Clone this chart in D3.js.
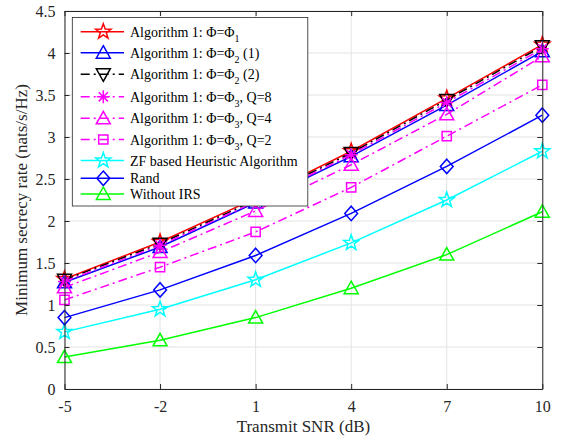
<!DOCTYPE html>
<html>
<head>
<meta charset="utf-8">
<script src="https://cdn.jsdelivr.net/npm/d3@7"></script>
<style>
  html, body { margin: 0; padding: 0; background: #fff; }
  svg { display: block; }
  svg text { font-family: "Liberation Serif", "Times New Roman", Times, serif !important; }
</style>
</head>
<body>
<svg id="chart" width="562" height="438"></svg>
<script>
// ---- data ----
const snr = [-5, -2, 1, 4, 7, 10];
const phi1   = [1.31, 1.75, 2.27, 2.83, 3.46, 4.10];
const phi2a  = [1.27, 1.69, 2.22, 2.77, 3.38, 4.02];
const phi2b  = [1.30, 1.73, 2.25, 2.81, 3.44, 4.08];
const phi3q8 = [1.28, 1.71, 2.23, 2.79, 3.41, 4.05];
const phi3q4 = [1.21, 1.63, 2.12, 2.67, 3.27, 3.96];
const phi3q2 = [1.06, 1.45, 1.87, 2.40, 3.01, 3.62];
const zfHeur = [0.68, 0.95, 1.30, 1.74, 2.25, 2.83];
const randPh = [0.85, 1.18, 1.59, 2.09, 2.65, 3.26];
const noIRS  = [0.38, 0.58, 0.85, 1.20, 1.60, 2.11];

const xTicks = [-5, -2, 1, 4, 7, 10];
const yTicks = [0, 0.5, 1, 1.5, 2, 2.5, 3, 3.5, 4, 4.5];

const labelMain = ["Algorithm 1: \u03A6=\u03A6", "Algorithm 1: \u03A6=\u03A6", "Algorithm 1: \u03A6=\u03A6",
                   "Algorithm 1: \u03A6=\u03A6", "Algorithm 1: \u03A6=\u03A6", "Algorithm 1: \u03A6=\u03A6",
                   "ZF based Heuristic Algorithm", "Rand", "Without IRS"];
const labelSub  = ["1", "2", "2", "3", "3", "3", "", "", ""];
const labelTail = ["", " (1)", " (2)", ", Q=8", ", Q=4", ", Q=2", "", "", ""];

const xLabel = "Transmit SNR (dB)";
const yLabel = "Minimum secrecy rate (nats/s/Hz)";

// ---- styling ----
const FONT = "Liberation Serif, Times New Roman, serif";
const seriesValues = [phi1, phi2a, phi2b, phi3q8, phi3q4, phi3q2, zfHeur, randPh, noIRS];
const colors  = ["#ff0000", "#0000ff", "#000000", "#ff00ff", "#ff00ff", "#ff00ff", "#00ffff", "#0000ff", "#00ff00"];
const dashes  = [null, null, "9,4,2,4", "9,4,2,4", "9,4,2,4", "9,4,2,4", null, null, null];
const markers = ["pentagram", "triUp", "triDown", "asterisk", "triUp", "square", "pentagram", "diamond", "triUp"];

function markerPath(type) {
  const p = d3.path();
  if (type === "triUp") {
    p.moveTo(0, -7); p.lineTo(7, 5.5); p.lineTo(-7, 5.5); p.closePath();
  } else if (type === "triDown") {
    p.moveTo(0, 7); p.lineTo(7, -5.5); p.lineTo(-7, -5.5); p.closePath();
  } else if (type === "square") {
    p.rect(-4.6, -4.6, 9.2, 9.2);
  } else if (type === "diamond") {
    p.moveTo(0, -7.2); p.lineTo(6.4, 0); p.lineTo(0, 7.2); p.lineTo(-6.4, 0); p.closePath();
  } else if (type === "pentagram") {
    const R = 8, r = 3.2;
    for (let i = 0; i < 10; i++) {
      const a = -Math.PI / 2 + i * Math.PI / 5;
      const rad = i % 2 === 0 ? R : r;
      const px = rad * Math.cos(a), py = rad * Math.sin(a);
      if (i === 0) p.moveTo(px, py); else p.lineTo(px, py);
    }
    p.closePath();
  } else if (type === "asterisk") {
    const r = 6.5;
    for (let i = 0; i < 4; i++) {
      const a = i * Math.PI / 4;
      p.moveTo(-r * Math.cos(a), -r * Math.sin(a));
      p.lineTo(r * Math.cos(a), r * Math.sin(a));
    }
  }
  return p.toString();
}

// ---- layout ----
const svg = d3.select("#chart").attr("font-family", FONT);
const L = 64.5, R = 542.3, T = 11, B = 389;
const x = d3.scaleLinear().domain([-5, 10]).range([L, R]);
const y = d3.scaleLinear().domain([0, 4.5]).range([B, T]);
const axisColor = "#262626";

// grid
const grid = svg.append("g");
grid.selectAll("line.gx").data(xTicks).join("line")
  .attr("x1", d => x(d)).attr("x2", d => x(d)).attr("y1", T).attr("y2", B)
  .attr("stroke", "#e3e3e3").attr("stroke-width", 1);
grid.selectAll("line.gy").data(yTicks).join("line")
  .attr("x1", L).attr("x2", R).attr("y1", d => y(d)).attr("y2", d => y(d))
  .attr("stroke", "#e3e3e3").attr("stroke-width", 1);

// series
const plot = svg.append("g");
const line = d3.line().x((d, i) => x(snr[i])).y(d => y(d));
seriesValues.forEach((vals, k) => {
  const g = plot.append("g");
  g.append("path").attr("d", line(vals))
    .attr("fill", "none").attr("stroke", colors[k]).attr("stroke-width", 1.5)
    .attr("stroke-dasharray", dashes[k]);
  g.selectAll("path.m").data(vals).join("path")
    .attr("class", "m")
    .attr("transform", (d, i) => `translate(${x(snr[i])},${y(d)})`)
    .attr("d", markerPath(markers[k]))
    .attr("fill", "none").attr("stroke", colors[k]).attr("stroke-width", 1.5);
});

// axes
const axB = d3.axisBottom(x).tickValues(xTicks).tickSizeInner(-5).tickSizeOuter(0).tickPadding(12).tickFormat(d => d);
const axT = d3.axisTop(x).tickValues(xTicks).tickSizeInner(-5).tickSizeOuter(0).tickFormat("");
const axLf = d3.axisLeft(y).tickValues(yTicks).tickSizeInner(-5).tickSizeOuter(0).tickPadding(9).tickFormat(d => d);
const axRt = d3.axisRight(y).tickValues(yTicks).tickSizeInner(-5).tickSizeOuter(0).tickFormat("");

function styleAxis(g) {
  g.attr("font-family", FONT).attr("font-size", 16);
  g.select(".domain").attr("stroke", axisColor).attr("stroke-width", 1);
  g.selectAll(".tick line").attr("stroke", axisColor).attr("stroke-width", 1);
  g.selectAll(".tick text").attr("fill", axisColor).attr("font-family", FONT).attr("font-size", 16);
}
svg.append("g").attr("transform", `translate(0,${B})`).call(axB).call(styleAxis);
svg.append("g").attr("transform", `translate(0,${T})`).call(axT).call(styleAxis);
svg.append("g").attr("transform", `translate(${L},0)`).call(axLf).call(styleAxis);
svg.append("g").attr("transform", `translate(${R},0)`).call(axRt).call(styleAxis);

// axis labels
svg.append("text").attr("x", (L + R) / 2).attr("y", 432)
  .attr("text-anchor", "middle").attr("fill", axisColor)
  .attr("font-family", FONT).attr("font-size", 17).text(xLabel);
svg.append("text").attr("transform", `translate(27,${(T + B) / 2}) rotate(-90)`)
  .attr("text-anchor", "middle").attr("fill", axisColor)
  .attr("font-family", FONT).attr("font-size", 17).text(yLabel);

// legend
const legRowY = [31.7, 52.7, 74.3, 96.8, 118.3, 139.5, 160.5, 178.3, 194];
const lg = svg.append("g");
lg.append("rect").attr("x", 72.3).attr("y", 17.5).attr("width", 235.5).attr("height", 188.5)
  .attr("fill", "#fff").attr("stroke", "#262626").attr("stroke-width", 0.8);
seriesValues.forEach((vals, k) => {
  const ry = legRowY[k];
  lg.append("line").attr("x1", 80.7).attr("x2", 124).attr("y1", ry).attr("y2", ry)
    .attr("stroke", colors[k]).attr("stroke-width", 1.5).attr("stroke-dasharray", dashes[k]);
  lg.append("path").attr("transform", `translate(103.3,${ry})`).attr("d", markerPath(markers[k]))
    .attr("fill", "none").attr("stroke", colors[k]).attr("stroke-width", 1.5);
  const t = lg.append("text").attr("x", 130).attr("y", ry + 5).attr("fill", "#000")
    .attr("font-family", FONT).attr("font-size", 14);
  t.append("tspan").text(labelMain[k]);
  if (labelSub[k]) {
    t.append("tspan").attr("dy", 5).attr("font-size", 10).text(labelSub[k]);
    if (labelTail[k]) t.append("tspan").attr("dy", -5).text(labelTail[k]);
  }
});
</script>
</body>
</html>
